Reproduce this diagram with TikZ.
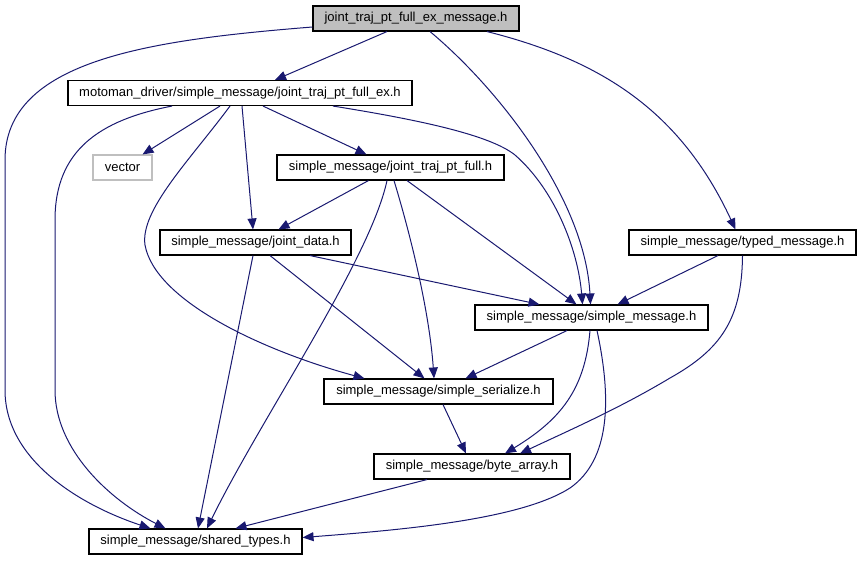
\documentclass[tikz,border=0pt]{standalone}
\usepackage{fontspec}
\setmainfont{Liberation Sans}
\usetikzlibrary{arrows.meta}
\definecolor{edgecol}{HTML}{191970}
\definecolor{grayfill}{HTML}{BFBFBF}
\tikzset{
  filebox/.style={draw=black, line width=1.1pt, rectangle, inner sep=0pt, minimum height=25pt, font=\fontsize{13}{15}\selectfont, fill=white},
  extbox/.style={filebox, draw=grayfill},
  curbox/.style={filebox, fill=grayfill},
  dep/.style={draw=edgecol, line width=1pt, -{Triangle[length=11pt,width=9pt]}, edgecol},
}
\begin{document}
\begin{tikzpicture}[x=1pt,y=-1pt]
\useasboundingbox (0,0) rectangle (861,560);
% nodes
\node[curbox, minimum width=206pt] (top) at (416,18.5) {joint\_traj\_pt\_full\_ex\_message.h};
\node[filebox, minimum width=344pt] (moto) at (240,93) {motoman\_driver/simple\_message/joint\_traj\_pt\_full\_ex.h};
\node[extbox, minimum width=59pt] (vec) at (122.5,167.5) {vector};
\node[filebox, minimum width=227pt] (jtpf) at (390.5,167.5) {simple\_message/joint\_traj\_pt\_full.h};
\node[filebox, minimum width=191pt] (jd) at (255.5,242.5) {simple\_message/joint\_data.h};
\node[filebox, minimum width=227pt] (tm) at (742.5,242.5) {simple\_message/typed\_message.h};
\node[filebox, minimum width=233pt] (sm) at (591.5,317.5) {simple\_message/simple\_message.h};
\node[filebox, minimum width=229pt] (ss) at (438.5,391.5) {simple\_message/simple\_serialize.h};
\node[filebox, minimum width=196pt] (ba) at (472,466.5) {simple\_message/byte\_array.h};
\node[filebox, minimum width=213pt] (st) at (195.5,541.5) {simple\_message/shared\_types.h};
% edges from top
\draw[dep] ([xshift=-29pt]top.south) -- ([xshift=35pt]moto.north);
\draw[dep] ([yshift=-8.5pt]top.west) .. controls (150,40) and (5,60) .. (5,160) -- (5,390) .. controls (5,460) and (80,505) .. ([xshift=-45pt]st.north);
\draw[dep] ([xshift=14pt]top.south) .. controls (500,90) and (585,200) .. ([xshift=-1pt]sm.north);
\draw[dep] ([xshift=71pt]top.south) .. controls (600,60) and (680,110) .. ([xshift=-7pt]tm.north);
% edges from moto
\draw[dep] ([xshift=-20pt]moto.south) -- ([xshift=20pt]vec.north);
\draw[dep] ([xshift=23pt]moto.south) -- ([xshift=-24pt]jtpf.north);
\draw[dep] ([xshift=2pt]moto.south) -- ([xshift=-2.5pt]jd.north);
\draw[dep] ([xshift=-10pt]moto.south) .. controls (190,160) and (140,210) .. (145,245) .. controls (155,300) and (260,350) .. ([xshift=-74pt]ss.north);
\draw[dep] ([xshift=-68pt]moto.south) .. controls (100,120) and (55,150) .. (55,220) -- (55,390) .. controls (55,450) and (110,500) .. ([xshift=-30pt]st.north);
\draw[dep] ([xshift=93pt]moto.south) .. controls (420,120) and (490,135) .. (515,155) .. controls (555,190) and (578,250) .. ([xshift=-9pt]sm.north);
% edges from jtpf
\draw[dep] ([xshift=-22pt]jtpf.south) -- ([xshift=23pt]jd.north);
\draw[dep] ([xshift=-3.5pt]jtpf.south) .. controls (370,260) and (260,420) .. ([xshift=11.5pt]st.north);
\draw[dep] ([xshift=3.5pt]jtpf.south) .. controls (415,250) and (430,320) .. ([xshift=-4.5pt]ss.north);
\draw[dep] ([xshift=16.5pt]jtpf.south) -- ([xshift=-15pt]sm.north);
% edges from jd
\draw[dep] ([xshift=54.5pt]jd.south) -- ([xshift=-52pt]sm.north);
\draw[dep] ([xshift=14.5pt]jd.south) -- ([xshift=-14pt]ss.north);
\draw[dep] ([xshift=-2.5pt]jd.south) -- ([xshift=2.5pt]st.north);
% edges from tm
\draw[dep] ([xshift=-24.5pt]tm.south) -- ([xshift=26pt]sm.north);
\draw[dep] (tm.south) .. controls (742,320) and (720,350) .. (670,378) .. controls (620,408) and (570,430) .. ([xshift=48pt]ba.north);
% edges from sm
\draw[dep] ([xshift=-24.5pt]sm.south) -- ([xshift=27pt]ss.north);
\draw[dep] ([xshift=-1.5pt]sm.south) .. controls (585,390) and (560,420) .. ([xshift=33pt]ba.north);
\draw[dep] ([xshift=5.5pt]sm.south) .. controls (612,400) and (610,460) .. (570,488) .. controls (520,520) and (400,530) .. ([yshift=4pt]st.east);
% remaining
\draw[dep] ([xshift=4.5pt]ss.south) -- ([xshift=-6pt]ba.north);
\draw[dep] ([xshift=-45pt]ba.south) -- ([xshift=40pt]st.north);
\end{tikzpicture}
\end{document}
